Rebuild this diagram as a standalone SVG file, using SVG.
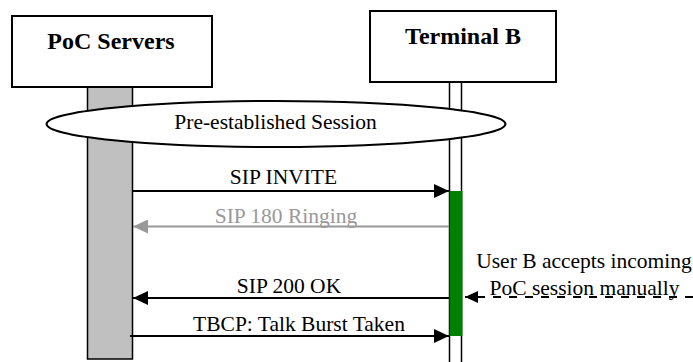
<svg xmlns="http://www.w3.org/2000/svg" width="693" height="362" viewBox="0 0 693 362">
<style>
.box{fill:#fff;stroke:#000;stroke-width:2}
.title{font-family:"Liberation Serif","Times New Roman",serif;font-weight:bold;font-size:24px;text-anchor:middle;fill:#000}
.lbl{font-family:"Liberation Serif","Times New Roman",serif;font-size:21.5px;text-anchor:middle;fill:#000}
.msg{fill:none;stroke:#000;stroke-width:2}
.gray{stroke:#999}
</style>
<defs>
<marker id="ah" markerUnits="userSpaceOnUse" markerWidth="16" markerHeight="14" refX="15" refY="7" orient="auto">
<path d="M0,0 L15,7 L0,14 z" fill="#000"/>
</marker>
<marker id="ahg" markerUnits="userSpaceOnUse" markerWidth="16" markerHeight="14" refX="15" refY="7" orient="auto">
<path d="M0,0 L15,7 L0,14 z" fill="#999"/>
</marker>
<marker id="ahs" markerUnits="userSpaceOnUse" markerWidth="14" markerHeight="12" refX="13" refY="6" orient="auto">
<path d="M0,0 L13,6 L0,12 z" fill="#000"/>
</marker>
</defs>
<rect width="693" height="362" fill="#fff"/>
<g id="poc-servers">
<rect x="87.5" y="87" width="45" height="272" fill="#c0c0c0" stroke="#000" stroke-width="1.5"/>
<rect class="box" x="12" y="16" width="200" height="71"/>
<text class="title" x="111" y="49">PoC Servers</text>
</g>
<g id="terminal-b">
<rect x="449.5" y="82" width="12" height="290" fill="#fff" stroke="#000" stroke-width="1.5"/>
<rect x="449.5" y="191" width="13" height="145" fill="#008000"/>
<rect class="box" x="370" y="11" width="186" height="71"/>
<text class="title" x="463" y="44">Terminal B</text>
</g>
<g id="session">
<ellipse cx="276" cy="124" rx="229.5" ry="23" fill="#fff" stroke="#000" stroke-width="2"/>
<text class="lbl" x="275.5" y="129">Pre-established Session</text>
</g>
<g id="connectors">
<line class="msg" x1="133" y1="191" x2="449" y2="191" marker-end="url(#ah)"/>
<text class="lbl" x="283.5" y="184">SIP INVITE</text>
<line class="msg gray" x1="449" y1="226.5" x2="133" y2="226.5" marker-end="url(#ahg)"/>
<text class="lbl" x="286" y="223" style="fill:#999">SIP 180 Ringing</text>
<line class="msg" x1="449" y1="298" x2="133" y2="298" marker-end="url(#ah)"/>
<text class="lbl" x="289" y="293">SIP 200 OK</text>
<line class="msg" x1="130" y1="336" x2="449" y2="336" marker-end="url(#ah)"/>
<text class="lbl" x="299" y="330.5">TBCP: Talk Burst Taken</text>
<line class="msg" x1="693" y1="297" x2="465" y2="297" stroke-dasharray="8 8" marker-end="url(#ahs)"/>
<text class="lbl" x="584" y="268">User B accepts incoming</text>
<text class="lbl" x="584.5" y="295">PoC session manually</text>
</g>
</svg>
